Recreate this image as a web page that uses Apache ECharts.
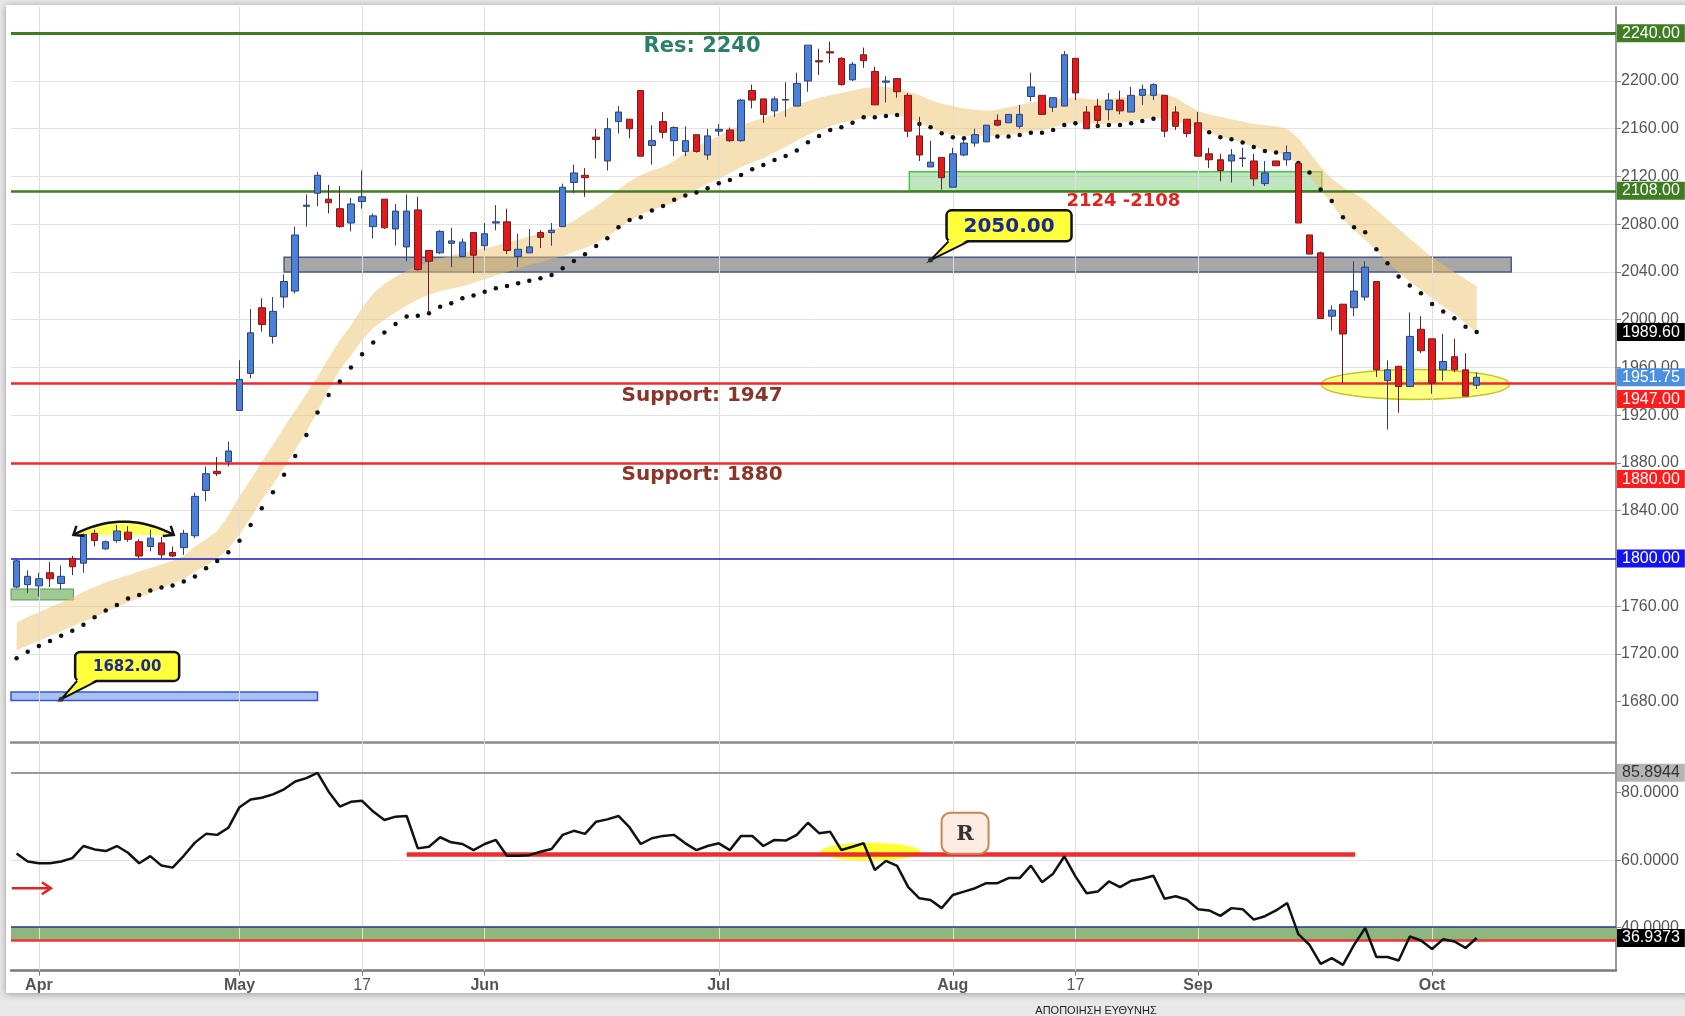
<!DOCTYPE html>
<html>
<head>
<meta charset="utf-8">
<script src="https://cdn.jsdelivr.net/npm/echarts@6/dist/echarts.min.js"></script>
<style>
html, body { margin: 0; padding: 0; background: #e8e8e8; }
#main { width: 1685px; height: 1016px; }
</style>
</head>
<body>
<div id="main"></div>
<script>
// daily candles: [open, close, low, high]
var candles = [
  [1776, 1798, 1775, 1799], [1778, 1785, 1771, 1790], [1777, 1783, 1768, 1788], [1788, 1783, 1776, 1797], [1779, 1785, 1774, 1794],
  [1800, 1793, 1786, 1802], [1796, 1820, 1788, 1821], [1821, 1815, 1810, 1824], [1808, 1814, 1807, 1815], [1815, 1823, 1813, 1828],
  [1822, 1816, 1814, 1827], [1814, 1802, 1800, 1816], [1810, 1817, 1806, 1824], [1813, 1803, 1800, 1818], [1805, 1802, 1801, 1810],
  [1809, 1821, 1803, 1824], [1819, 1852, 1817, 1855], [1857, 1871, 1848, 1877], [1873, 1871, 1869, 1885], [1881, 1890, 1877, 1898],
  [1924, 1950, 1924, 1966], [1955, 1989, 1951, 2009], [2010, 1996, 1990, 2018], [1986, 2007, 1980, 2019], [2019, 2032, 2010, 2038],
  [2024, 2071, 2022, 2078], [2095, 2096, 2078, 2105], [2106, 2121, 2095, 2124], [2101, 2098, 2089, 2113], [2093, 2078, 2077, 2112],
  [2081, 2097, 2074, 2102], [2099, 2103, 2093, 2125], [2078, 2087, 2068, 2089], [2101, 2077, 2076, 2101], [2076, 2091, 2062, 2097],
  [2061, 2091, 2049, 2105], [2092, 2042, 2041, 2103], [2058, 2049, 2006, 2058], [2056, 2074, 2055, 2075], [2064, 2066, 2044, 2077],
  [2053, 2065, 2053, 2068], [2073, 2054, 2039, 2073], [2062, 2072, 2058, 2081], [2081, 2082, 2075, 2096], [2082, 2058, 2055, 2093],
  [2053, 2059, 2044, 2072], [2056, 2061, 2056, 2076], [2073, 2069, 2060, 2075], [2073, 2075, 2062, 2081], [2078, 2111, 2078, 2114],
  [2115, 2123, 2106, 2130], [2121, 2119, 2103, 2127], [2153, 2151, 2135, 2160], [2133, 2160, 2125, 2169], [2166, 2174, 2156, 2179],
  [2168, 2160, 2152, 2168], [2192, 2137, 2137, 2192], [2146, 2150, 2130, 2163], [2166, 2157, 2152, 2174], [2150, 2161, 2137, 2162],
  [2141, 2150, 2137, 2162], [2155, 2141, 2140, 2155], [2138, 2154, 2134, 2160], [2158, 2159.5, 2154, 2164], [2159, 2150, 2149, 2161],
  [2150, 2184, 2149, 2185], [2192, 2184, 2177, 2197], [2185, 2172, 2165, 2185], [2175, 2185, 2170, 2187], [2184, 2184.5, 2170, 2199],
  [2179, 2198, 2179, 2207], [2200, 2230, 2191, 2230], [2217, 2216, 2205, 2227], [2224.5, 2223.5, 2215, 2233], [2219, 2197, 2196, 2220],
  [2201, 2214, 2200, 2216], [2222, 2217, 2211, 2228], [2208, 2180, 2180, 2212], [2199, 2200, 2182, 2204], [2202, 2191, 2186, 2202],
  [2188, 2158, 2153, 2190], [2154, 2138, 2133, 2170], [2128, 2132, 2128, 2150], [2136, 2119, 2109, 2136], [2111, 2139, 2111, 2144],
  [2138, 2148, 2137, 2151], [2148, 2155, 2145, 2160], [2149, 2163, 2149, 2163], [2167, 2163, 2162, 2172], [2165, 2172, 2165, 2172],
  [2162, 2172, 2160, 2180], [2187, 2195, 2183, 2207], [2188, 2172, 2172, 2188], [2178, 2186, 2174, 2186], [2179, 2222, 2179, 2225],
  [2219, 2190, 2184, 2219], [2174, 2160, 2160, 2179], [2179, 2167, 2161, 2185], [2176, 2184, 2167, 2190], [2184, 2175, 2172, 2192],
  [2174, 2188, 2174, 2195], [2188, 2193, 2180, 2197], [2188, 2197, 2184, 2198], [2188, 2158, 2153, 2188], [2174, 2162, 2159, 2179],
  [2168, 2156, 2153, 2168], [2165, 2137, 2137, 2174], [2139, 2134, 2127, 2144], [2134, 2125, 2116, 2139], [2133, 2138, 2115, 2143],
  [2135, 2135.5, 2128, 2144], [2133, 2118, 2112, 2139], [2114, 2123, 2112, 2133], [2133, 2129, 2129, 2133], [2134, 2140, 2129, 2146],
  [2131, 2081, 2081, 2132], [2071, 2055, 2055, 2071], [2056, 2001, 2001, 2057], [2003, 2008, 1991, 2012], [2013, 1988, 1947, 2013],
  [2010, 2024, 2003, 2049], [2019, 2044, 2016, 2049], [2032, 1958, 1952, 2032], [1949, 1958, 1908, 1966], [1961, 1944, 1922, 1961],
  [1944, 1986, 1944, 2006], [1992, 1974, 1972, 2003], [1984, 1947, 1938, 1984], [1958, 1965, 1949, 1988], [1969, 1958, 1956, 1984],
  [1958, 1936, 1936, 1972], [1945, 1951.75, 1942, 1956]
];

// dotted average
var dots = [
  1716.4, 1721.9, 1726.7, 1730.9, 1735.3, 1739.5, 1744.5, 1750.7, 1756.3, 1761.0,
  1766.5, 1769.4, 1773.1, 1775.6, 1777.3, 1780.6, 1784.8, 1791.8, 1797.9, 1805.2,
  1814.7, 1828.1, 1842.1, 1855.5, 1870.0, 1885.9, 1903.5, 1922.2, 1937.0, 1948.2,
  1960.0, 1971.0, 1981.0, 1989.2, 1996.4, 2002.6, 2003.4, 2005.4, 2010.9, 2013.7,
  2017.9, 2020.2, 2023.5, 2026.3, 2028.3, 2030.5, 2032.7, 2034.7, 2037.5, 2043.1,
  2049.2, 2054.8, 2061.8, 2068.2, 2077.4, 2083.6, 2085.8, 2091.4, 2095.3, 2100.6,
  2104.0, 2106.5, 2110.1, 2114.3, 2117.1, 2121.3, 2126.0, 2129.7, 2133.9, 2137.2,
  2141.7, 2148.7, 2154.0, 2159.0, 2161.2, 2165.1, 2169.6, 2169.6, 2170.7, 2171.6,
  2169.0, 2164.0, 2161.2, 2156.2, 2152.8, 2152.0, 2152.6, 2153.4, 2153.4, 2153.5,
  2154.7, 2156.7, 2156.7, 2158.9, 2163.1, 2164.5, 2163.1, 2162.3, 2163.1, 2163.1,
  2164.5, 2166.5, 2168.4, 2167.0, 2165.0, 2162.0, 2159.5, 2157.1, 2152.8, 2151.2,
  2148.5, 2144.6, 2141.4, 2140.0, 2138.0, 2131.4, 2123.4, 2109.0, 2099.5, 2085.8,
  2077.5, 2073.3, 2059.0, 2047.3, 2036.1, 2028.6, 2022.2, 2013.1, 2006.8, 2001.2,
  1994.2, 1989.6
];

// wide tan band, lower and upper edge
var bandLow = [
  1723, 1727, 1731, 1735, 1739, 1743, 1747, 1751, 1755, 1759,
  1763, 1767, 1771, 1775, 1779, 1783, 1789, 1794, 1800, 1808,
  1820, 1834, 1849, 1862, 1876, 1891, 1906, 1923, 1942, 1958,
  1970, 1983, 1993, 2000, 2006, 2012, 2017, 2021, 2024, 2026,
  2028, 2031, 2034, 2037, 2040, 2043, 2046, 2048, 2051, 2053,
  2057, 2060, 2064, 2070, 2076, 2083, 2088, 2092, 2095, 2098,
  2104, 2109, 2114, 2118, 2123, 2128, 2132, 2135, 2140, 2145,
  2150, 2155, 2159, 2162, 2165, 2167, 2169, 2171, 2172, 2171,
  2169, 2165, 2161, 2157, 2155, 2154, 2154, 2154, 2154, 2155,
  2156, 2158, 2159, 2161, 2164, 2165, 2165, 2164, 2164, 2165,
  2166, 2168, 2169, 2168, 2166, 2163, 2160, 2157, 2153, 2151,
  2148, 2145, 2142, 2140, 2137, 2130, 2120, 2109, 2097, 2084,
  2075, 2067, 2058, 2048, 2040, 2032, 2025, 2018, 2011, 2005,
  1997, 1989
];
var bandHigh = [
  1746, 1751, 1755, 1759, 1763, 1767, 1772, 1776, 1780, 1783,
  1786, 1789, 1792, 1795, 1798, 1802, 1810, 1816, 1823, 1836,
  1852, 1866, 1881, 1895, 1910, 1924, 1938, 1952, 1968, 1983,
  1995, 2010, 2022, 2030, 2036, 2041, 2045, 2048, 2051, 2054,
  2056, 2058, 2060, 2062, 2065, 2067, 2070, 2072, 2075, 2078,
  2083, 2089, 2095, 2102, 2109, 2116, 2121, 2125, 2128, 2133,
  2140, 2145, 2150, 2154, 2159, 2163, 2166, 2169, 2172, 2176,
  2180, 2183, 2186, 2188, 2190, 2192, 2194, 2195, 2195, 2194,
  2191, 2188, 2184, 2181, 2179, 2177, 2176, 2175, 2176, 2178,
  2180, 2182, 2183, 2185, 2186, 2186, 2185, 2184, 2185, 2186,
  2187, 2188, 2190, 2189, 2186, 2180, 2175, 2172, 2170, 2168,
  2166, 2164, 2163, 2162, 2160, 2152, 2140, 2128, 2118, 2111,
  2106, 2100, 2092, 2084, 2076, 2068, 2060, 2052, 2046, 2040,
  2034, 2028
];

// lower panel oscillator
var rsi = [
  62.0, 59.6, 59.1, 59.1, 59.6, 60.6, 64.2, 63.2, 62.7, 64.2,
  62.2, 59.1, 61.2, 58.4, 57.8, 61.3, 65.2, 67.8, 67.5, 69.6,
  75.7, 78.0, 78.5, 79.5, 81.0, 83.3, 84.3, 85.8944, 80.3, 75.9,
  77.3, 77.6, 74.4, 71.9, 72.9, 73.1, 63.5, 64.0, 66.8, 65.3,
  64.8, 63.0, 64.8, 66.0, 61.3, 61.3, 61.5, 62.5, 63.3, 67.5,
  68.7, 67.8, 71.4, 72.1, 73.1, 69.7, 64.8, 66.5, 67.2, 67.5,
  65.0, 63.0, 64.2, 65.0, 63.0, 67.2, 67.2, 64.2, 66.0, 65.8,
  67.5, 71.1, 68.0, 68.4, 63.0, 64.0, 65.0, 57.1, 59.8, 58.3,
  52.0, 48.7, 48.2, 45.8, 49.7, 50.7, 51.7, 53.2, 53.2, 54.7,
  54.7, 58.4, 53.5, 56.0, 61.1, 55.2, 50.2, 50.7, 53.7, 52.0,
  53.9, 54.5, 55.4, 48.6, 49.3, 48.3, 45.5, 45.1, 43.5, 45.8,
  45.5, 42.4, 43.4, 45.1, 47.3, 38.1, 34.9, 29.3, 31.0, 29.0,
  34.9, 39.9, 31.3, 31.3, 30.3, 37.4, 36.2, 33.7, 36.6, 35.9,
  34.0, 36.9373
];

// x ticks (trading-day index) and their labels
var tickIdx = [2, 20, 31, 42, 63, 84, 95, 106, 127];
var tickText = ['Apr', 'May', '17', 'Jun', 'Jul', 'Aug', '17', 'Sep', 'Oct'];
var priceTicks = [1680, 1720, 1760, 1800, 1840, 1880, 1920, 1960, 2000, 2040, 2080, 2120, 2160, 2200, 2240];
var rsiTicks = [40, 60, 80];

var chart = echarts.init(document.getElementById('main'));

function tag(bg, fg, digits, below) {
    return {
        show: true, position: 'end', distance: 1,
        backgroundColor: bg, color: fg, padding: [2, 5, 1, 5],
        fontSize: 16, lineHeight: 15, fontFamily: 'Liberation Sans',
        verticalAlign: below ? 'top' : 'middle',
        offset: below ? [0, 7] : [0, 0],
        formatter: function (p) { return (+p.value).toFixed(digits); }
    };
}
var noLabel = {show: false};
var hidden = {color: 'rgba(0,0,0,0)', width: 0, type: 'solid'};

var vgrid = tickIdx.map(function (i) { return {xAxis: i}; });

var option = {
    animation: false,
    backgroundColor: '#e8e8e8',
    textStyle: {fontFamily: 'Liberation Sans'},
    grid: [
        {left: 11, right: 69, top: 7, height: 735.7},
        {left: 11, right: 69, top: 742.7, height: 228}
    ],
    xAxis: [
        {
            type: 'value', gridIndex: 0, min: -0.5, max: 143.5,
            axisLine: {show: true, onZero: false, lineStyle: {color: '#8a8a8a', width: 2.5}},
            axisTick: {show: false}, axisLabel: {show: false}, splitLine: {show: false}
        },
        {
            type: 'value', gridIndex: 1, min: -0.5, max: 143.5,
            axisLine: {show: true, onZero: false, lineStyle: {color: '#7a7a7a', width: 2.5}},
            axisTick: {show: true, customValues: tickIdx, length: 5, lineStyle: {color: '#777'}},
            axisLabel: {
                customValues: tickIdx, margin: 7,
                formatter: function (v) {
                    var k = tickIdx.indexOf(Math.round(v));
                    if (k < 0) return '';
                    var t = tickText[k];
                    return /^\d+$/.test(t) ? '{n|' + t + '}' : '{b|' + t + '}';
                },
                rich: {
                    b: {fontWeight: 'bold', color: '#555', fontSize: 16, fontFamily: 'Liberation Sans'},
                    n: {color: '#555', fontSize: 16, fontFamily: 'Liberation Sans'}
                }
            },
            splitLine: {show: false}
        }
    ],
    yAxis: [
        {
            type: 'value', gridIndex: 0, position: 'right',
            min: 1645.6, max: 2262.0, minInterval: 40, maxInterval: 40,
            axisLine: {show: true, onZero: false, lineStyle: {color: '#777', width: 1.5}},
            axisTick: {show: true, customValues: priceTicks, length: 5, lineStyle: {color: '#888'}},
            axisLabel: {
                customValues: priceTicks,
                color: '#555', fontSize: 16, margin: 5,
                formatter: function (v) { return v.toFixed(2); }
            },
            splitLine: {show: true, showMinLine: false, showMaxLine: false, lineStyle: {color: '#e2e2e2'}}
        },
        {
            type: 'value', gridIndex: 1, position: 'right',
            min: 27.26, max: 94.81, minInterval: 20, maxInterval: 20,
            axisLine: {show: true, onZero: false, lineStyle: {color: '#777', width: 1.5}},
            axisTick: {show: true, customValues: rsiTicks, length: 5, lineStyle: {color: '#888'}},
            axisLabel: {
                customValues: rsiTicks,
                color: '#555', fontSize: 16, margin: 5,
                formatter: function (v) { return v.toFixed(4); }
            },
            splitLine: {show: true, showMinLine: false, showMaxLine: false, lineStyle: {color: '#e2e2e2'}}
        }
    ],
    series: [
        {
            name: 'vgrid0', type: 'line', xAxisIndex: 0, yAxisIndex: 0, data: [], z: 0, silent: true,
            markLine: {silent: true, symbol: ['none', 'none'], label: noLabel, lineStyle: {color: '#dedede', width: 1, type: 'solid'}, data: vgrid}
        },
        {
            name: 'boxes', type: 'line', xAxisIndex: 0, yAxisIndex: 0, data: [], z: 1, silent: true,
            markArea: {
                silent: true, label: noLabel,
                data: [
                    [{coord: [24.0, 2052.3], itemStyle: {color: '#a7a7a7', borderColor: '#4a5a8a', borderWidth: 1.5}}, {coord: [134.1, 2040]}],
                    [{coord: [80.1, 2124], itemStyle: {color: 'rgba(130,205,130,0.5)', borderColor: '#3fcc3f', borderWidth: 1.5}}, {coord: [117.1, 2108]}],
                    [{yAxis: 1774.4, itemStyle: {color: '#9fcb93', borderColor: '#5c9a52', borderWidth: 1}}, {xAxis: 5.1, yAxis: 1765.2}],
                    [{yAxis: 1688.1, itemStyle: {color: '#a9c0f4', borderColor: '#3558cc', borderWidth: 1.5}}, {xAxis: 27.0, yAxis: 1681}]
                ]
            }
        },
        {
            name: 'band', type: 'custom', xAxisIndex: 0, yAxisIndex: 0, z: 2, silent: true,
            data: bandLow.map(function (v, i) { return [i, v, bandHigh[i]]; }),
            encode: {x: 0, y: [1, 2]},
            renderItem: function (params, api) {
                if (params.dataIndex !== 0) return null;
                var pts = [];
                for (var i = 0; i < bandHigh.length; i++) pts.push(api.coord([i, bandHigh[i]]));
                for (var j = bandLow.length - 1; j >= 0; j--) pts.push(api.coord([j, bandLow[j]]));
                return {type: 'polygon', shape: {points: pts}, style: {fill: 'rgba(238,196,112,0.5)'}};
            }
        },
        {
            name: 'levels', type: 'line', xAxisIndex: 0, yAxisIndex: 0, data: [], z: 3, silent: true,
            markLine: {
                silent: true, symbol: ['none', 'none'], precision: 2,
                data: [
                    {yAxis: 2240, lineStyle: {color: '#3f7d22', width: 3, type: 'solid'}, label: tag('#3f7d22', '#fff', 2)},
                    {yAxis: 2108, lineStyle: {color: '#3f7d22', width: 2.5, type: 'solid'}, label: tag('#3f7d22', '#fff', 2)},
                    {yAxis: 1989.6, lineStyle: hidden, label: tag('#000', '#fff', 2)},
                    {yAxis: 1951.75, lineStyle: hidden, label: tag('#4a8fe0', '#fff', 2)},
                    {yAxis: 1947, lineStyle: {color: '#f02828', width: 2.5, type: 'solid'}, label: tag('#ff1c1c', '#fff', 2, true)},
                    {yAxis: 1880, lineStyle: {color: '#f02828', width: 2.5, type: 'solid'}, label: tag('#ff1c1c', '#fff', 2, true)},
                    {yAxis: 1800, lineStyle: {color: '#1a1ac4', width: 1.5, type: 'solid'}, label: tag('#1414f0', '#fff', 2)}
                ]
            }
        },
        {
            name: 'dots', type: 'line', xAxisIndex: 0, yAxisIndex: 0, z: 5,
            data: dots.map(function (v, i) { return [i, v]; }),
            symbol: 'circle', symbolSize: 4.5, showSymbol: true, showAllSymbol: true,
            lineStyle: {width: 0, opacity: 0}, itemStyle: {color: '#111'}
        },
        {
            name: 'price', type: 'candlestick', xAxisIndex: 0, yAxisIndex: 0, z: 6, barWidth: 7,
            data: candles.map(function (c, i) { return [i, c[0], c[1], c[2], c[3]]; }),
            itemStyle: {color: '#4b80da', color0: '#e3191b', borderColor: '#2e3f72', borderColor0: '#6a2020', borderWidth: 1}
        },
        {
            name: 'vgrid1', type: 'line', xAxisIndex: 1, yAxisIndex: 1, data: [], z: 0, silent: true,
            markLine: {silent: true, symbol: ['none', 'none'], label: noLabel, lineStyle: {color: '#dedede', width: 1, type: 'solid'}, data: vgrid}
        },
        {
            name: 'lowerMarks', type: 'line', xAxisIndex: 1, yAxisIndex: 1, data: [], z: 3, silent: true,
            markArea: {silent: true, label: noLabel, data: [[{yAxis: 40.3, itemStyle: {color: '#8db77c'}}, {yAxis: 36.3}]]},
            markLine: {
                silent: true, symbol: ['none', 'none'], precision: 4,
                data: [
                    {yAxis: 85.8944, lineStyle: {color: '#9a9a9a', width: 2, type: 'solid'}, label: tag('#b5b5b5', '#333', 4)},
                    {yAxis: 40.3, lineStyle: {color: '#2c3590', width: 1.5, type: 'solid'}, label: noLabel},
                    {yAxis: 36.3, lineStyle: {color: '#ee3535', width: 2.5, type: 'solid'}, label: noLabel},
                    {yAxis: 36.9373, lineStyle: hidden, label: tag('#000', '#fff', 4)},
                    [{coord: [35.0, 61.75], lineStyle: {color: '#ee2e2e', width: 4.5, type: 'solid'}, label: noLabel}, {coord: [120.1, 61.75]}]
                ]
            }
        },
        {
            name: 'osc', type: 'line', xAxisIndex: 1, yAxisIndex: 1, z: 5,
            data: rsi.map(function (v, i) { return [i, v]; }),
            showSymbol: false, lineStyle: {color: '#111', width: 2.5}
        }
    ]
};
chart.setOption(option);

function P(g, x, y) { return chart.convertToPixel({gridIndex: g}, [x, y]); }

function callout(anchor, dx, dy, w, h, text, font) {
    var bx = anchor[0] + dx, by = anchor[1] + dy, bottom = by + h;
    return [
        {type: 'rect', z: 20, shape: {x: bx, y: by, width: w, height: h, r: 5},
            style: {fill: '#ffff3c', stroke: '#111', lineWidth: 2.5}},
        {type: 'polygon', z: 21, shape: {points: [anchor, [bx + 3, bottom - 2], [bx + 22, bottom - 2]]},
            style: {fill: '#ffff3c'}},
        {type: 'polyline', z: 21, shape: {points: [[bx + 2, bottom], anchor, [bx + 22, bottom]]},
            style: {stroke: '#111', lineWidth: 2, fill: null}},
        {type: 'circle', z: 22, shape: {cx: anchor[0], cy: anchor[1], r: 2.5}, style: {fill: '#333'}},
        {type: 'text', z: 22, x: bx + w / 2, y: by + h / 2 + 1,
            style: {text: text, fill: '#1b2a8c', font: font, textAlign: 'center', textVerticalAlign: 'middle'}}
    ];
}

function labelText(p, text, color, font) {
    return {type: 'text', z: 20, x: p[0], y: p[1],
        style: {text: text, fill: color, font: font, textAlign: 'center', textVerticalAlign: 'middle'}};
}

var els = [];
els.push({type: 'rect', z: -100, silent: true, shape: {x: 6, y: 5, width: 1720, height: 988},
    style: {fill: '#fff', shadowBlur: 7, shadowColor: 'rgba(0,0,0,0.35)', shadowOffsetY: 1}});

// arc with arrows over the April consolidation
var a0 = P(0, 5.1, 1819.7), a2 = P(0, 14.1, 1819.7), am = P(0, 9.6, 1830.8);
var qc = [2 * am[0] - (a0[0] + a2[0]) / 2, 2 * am[1] - (a0[1] + a2[1]) / 2];
var arcPts = [];
for (var t = 0; t <= 1.0001; t += 0.05) {
    var u = 1 - t;
    arcPts.push([u * u * a0[0] + 2 * u * t * qc[0] + t * t * a2[0], u * u * a0[1] + 2 * u * t * qc[1] + t * t * a2[1]]);
}
els.push({type: 'polygon', z: 1, shape: {points: arcPts}, style: {fill: 'rgba(255,255,70,0.85)'}});
els.push({type: 'polyline', z: 20, shape: {points: arcPts}, style: {stroke: '#111', lineWidth: 2.5, fill: null}});
els.push({type: 'polyline', z: 20, shape: {points: [[a0[0] + 3, a0[1] - 9], a0, [a0[0] + 11, a0[1] + 1]]}, style: {stroke: '#111', lineWidth: 2.5, fill: null}});
els.push({type: 'polyline', z: 20, shape: {points: [[a2[0] - 3, a2[1] - 9], a2, [a2[0] - 11, a2[1] + 1]]}, style: {stroke: '#111', lineWidth: 2.5, fill: null}});

// yellow ellipses
var e1 = P(0, 125.5, 1945.8);
els.push({type: 'ellipse', z: 4, shape: {cx: e1[0], cy: e1[1], rx: 94, ry: 15},
    style: {fill: 'rgba(255,255,80,0.72)', stroke: '#c2c22a', lineWidth: 1.5}});
var e2 = P(1, 76.6, 62.5);
els.push({type: 'ellipse', z: 4, shape: {cx: e2[0], cy: e2[1], rx: 50, ry: 9},
    style: {fill: 'rgba(255,255,0,0.8)'}});

// callouts
els = els.concat(callout(P(0, 82, 2050), 16, -49.7, 125, 31, '2050.00', 'bold 20px "DejaVu Sans"'));
els = els.concat(callout(P(0, 4, 1682), 14, -47.3, 104, 29, '1682.00', 'bold 15px "DejaVu Sans"'));

// text annotations
els.push(labelText(P(0, 61.5, 2229.2), 'Res: 2240', '#2b7f6c', 'bold 21px "DejaVu Sans"'));
els.push(labelText(P(0, 61.5, 1936.6), 'Support: 1947', '#8b3528', 'bold 20px "DejaVu Sans"'));
els.push(labelText(P(0, 61.5, 1869.9), 'Support: 1880', '#8b3528', 'bold 20px "DejaVu Sans"'));
els.push(labelText(P(0, 99.3, 2099.5), '2124 -2108', '#e3211f', 'bold 18px "DejaVu Sans"'));

// R box in the oscillator panel
var rc = P(1, 85.1, 68.0);
els.push({type: 'rect', z: 20, shape: {x: rc[0] - 23.5, y: rc[1] - 20.5, width: 47, height: 41, r: 9},
    style: {fill: '#fdece2', stroke: '#c98552', lineWidth: 2}});
els.push(labelText([rc[0], rc[1] + 1], 'R', '#333', 'bold 21px "DejaVu Serif"'));

// red arrow
var ra = P(1, -0.43, 51.7), rb = P(1, 3.08, 51.7);
els.push({type: 'polyline', z: 20, shape: {points: [ra, rb]}, style: {stroke: '#e52222', lineWidth: 2.5, fill: null}});
els.push({type: 'polyline', z: 20, shape: {points: [[rb[0] - 9, rb[1] - 6], rb, [rb[0] - 9, rb[1] + 6]]}, style: {stroke: '#e52222', lineWidth: 2.5, fill: null}});

// footer text
els.push({type: 'text', z: 20, x: 1096, y: 1005,
    style: {text: 'ΑΠΟΠΟΙΗΣΗ ΕΥΘΥΝΗΣ', fill: '#222', font: '11px "Liberation Sans Narrow", "Liberation Sans"', textAlign: 'center', textVerticalAlign: 'top'}});

chart.setOption({graphic: {elements: els}});
</script>
</body>
</html>
